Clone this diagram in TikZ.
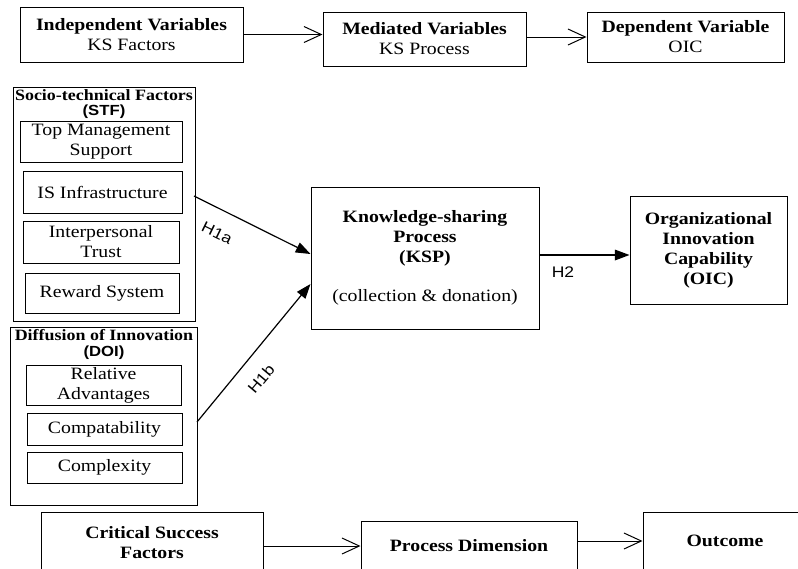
\documentclass[tikz,border=0pt]{standalone}
\usepackage{fontspec}
\setmainfont[FakeStretch=1.14]{Liberation Serif}
\newfontfamily\arl[FakeStretch=1.14]{Liberation Sans}
\usetikzlibrary{arrows.meta,calc}
\begin{document}
\begin{tikzpicture}[x=0.75pt,y=-0.75pt,
  box/.style={draw, line width=0.75pt, inner sep=0pt, align=center, font=\fontsize{13}{15}\selectfont},
  rect/.style args={#1,#2,#3,#4}{minimum width={(#3-#1)*0.75pt}, minimum height={(#4-#2)*0.75pt}, at={({(#1+#3)/2},{(#2+#4)/2})}},
  openarrow/.style={line width=0.75pt, -{Straight Barb[length=13pt,width=12pt,line width=0.75pt]}},
  fillarrow/.style={line width=0.9pt, -{Triangle[length=11pt,width=8pt]}},
  hlabel/.style={font=\arl\fontsize{11.5}{13}\selectfont, inner sep=0pt},
  grouptitle/.style={font=\bfseries\fontsize{11.8}{13}\selectfont, inner sep=0pt},
  groupabbr/.style={font=\arl\bfseries\fontsize{11}{13}\selectfont, inner sep=0pt},
]
\useasboundingbox (0,0) rectangle (798,568);
\clip (0,0) rectangle (798,568);

% top row
\node[box, rect={20,7,243,62}] (indep) {\textbf{Independent Variables}\\KS Factors};
\node[box, rect={323,12,526,66}] (med) {\textbf{Mediated Variables}\\KS Process};
\node[box, rect={587,12,784,62}] (dep) {\textbf{Dependent Variable}\\OIC};
\draw[openarrow] (indep.east) -- (indep.east -| med.west);
\draw[openarrow] (med.east |- dep.west) -- (dep.west);

% STF group
\node[box, rect={13,87,195,321}] (stf) {};
\node[grouptitle] (stft) at (104,95) {Socio-technical Factors};
\node[groupabbr] (stfa) at (104,112) {(STF)};
\node[box, rect={20,121,182,162}] (tms) {Top Management\\Support};
\node[box, rect={23,171,182,213}] (isi) {IS Infrastructure};
\node[box, rect={23,221,179,263}] (ipt) {Interpersonal\\Trust};
\node[box, rect={25,273,179,313}] (rws) {Reward System};

% DOI group
\node[box, rect={10,327,197,505}] (doi) {};
\node[grouptitle] (doit) at (104,335) {Diffusion of Innovation};
\node[groupabbr] (doia) at (104,353) {(DOI)};
\node[box, rect={26,365,181,405}] (rel) {Relative\\Advantages};
\node[box, rect={27,413,182,445}] (com) {Compatability};
\node[box, rect={27,452,182,483}] (cpx) {Complexity};

% KSP and OIC
\node[box, rect={311,187,539,329}] (ksp) {\textbf{Knowledge-sharing}\\\textbf{Process}\\\textbf{(KSP)}\\[14pt](collection \& donation)};
\node[box, rect={630,196,787,304}] (oic) {\textbf{Organizational}\\\textbf{Innovation}\\\textbf{Capability}\\\textbf{(OIC)}};

\coordinate (h1aS) at (194,196);
\coordinate (h1bS) at (197,422);
\draw[fillarrow] (h1aS) -- ($(ksp.west)+(0,-4)$);
\draw[fillarrow] (h1bS) -- ($(ksp.west)+(0,26)$);
\draw[fillarrow] ($(ksp.east)+(0,-3)$) -- ($(oic.west)+(0,5)$);
\node[hlabel, rotate=-26] (l1a) at (217,233) {H1a};
\node[hlabel, rotate=50] (l1b) at (261,379) {H1b};
\node[hlabel] (l2) at (563,272) {H2};

% bottom row
\node[box, rect={41,512,263,574}] (csf) {\textbf{Critical Success}\\\textbf{Factors}};
\node[box, rect={361,521,577,571}] (proc) {\textbf{Process Dimension}};
\node[box, rect={643,512,807,570}] (out) {\textbf{Outcome}};
\draw[openarrow] (csf.east |- proc.west) -- (proc.west);
\draw[openarrow] (proc.east |- out.west) -- (out.west);
\end{tikzpicture}
\end{document}
